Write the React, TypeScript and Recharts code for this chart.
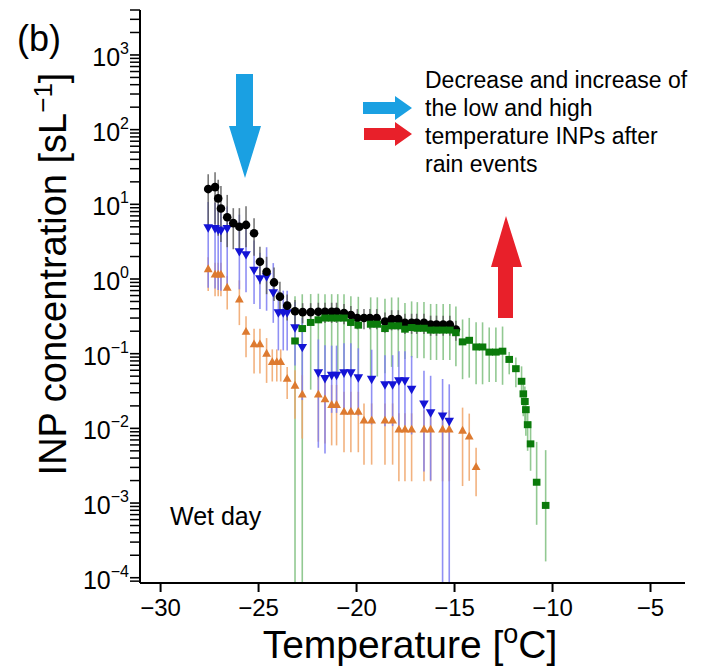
import React from 'react';
import { ScatterChart, Scatter, XAxis, YAxis, ErrorBar } from 'recharts';

// ---------- data ----------
const blackT = [-27.57, -27.22, -27.06, -26.92, -26.6, -26.29, -25.98, -25.64, -25.23, -24.93, -24.59, -24.21, -23.91, -23.54, -23.14, -22.75, -22.34, -21.95, -21.61, -21.27, -21.02, -20.64, -20.29, -19.96, -19.62, -19.32, -18.97, -18.55, -18.21, -17.87, -17.53, -17.19, -16.93, -16.56, -16.22, -15.92, -15.58, -15.24, -14.93];
const blackV = [16, 17, 12, 8.8, 6.7, 5.6, 5.0, 5.3, 4.1, 1.7, 1.25, 0.9, 0.58, 0.44, 0.37, 0.36, 0.36, 0.365, 0.365, 0.365, 0.365, 0.35, 0.33, 0.30, 0.30, 0.30, 0.30, 0.27, 0.29, 0.29, 0.26, 0.26, 0.26, 0.26, 0.245, 0.245, 0.245, 0.245, 0.21];
const blackHiDex = [0.2, 0.2, 0.25, 0.3, 0.3, 0.2, 0.25, 0.25, 0.2, 0.2, 0.2, 0.2, 0.2, 0.15, 0.15, 0.12, 0.12, 0.12, 0.12, 0.12, 0.12, 0.12, 0.12, 0.12, 0.12, 0.12, 0.12, 0.12, 0.12, 0.12, 0.12, 0.12, 0.12, 0.12, 0.12, 0.12, 0.12, 0.12, 0.12];
const blackLoDex = [0.5, 0.5, 0.5, 0.45, 0.4, 0.35, 0.35, 0.3, 0.3, 0.3, 0.3, 0.25, 0.25, 0.2, 0.2, 0.15, 0.15, 0.15, 0.15, 0.15, 0.15, 0.15, 0.15, 0.15, 0.15, 0.15, 0.15, 0.15, 0.15, 0.15, 0.15, 0.15, 0.15, 0.15, 0.15, 0.15, 0.15, 0.15, 0.15];

const blueT = [-27.57, -27.22, -27.06, -26.92, -26.6, -25.98, -25.64, -25.23, -24.93, -24.59, -24.25, -23.99, -23.74, -23.54, -23.14, -22.77, -21.95, -21.61, -21.27, -21.02, -20.64, -20.29, -19.91, -19.23, -18.55, -18.16, -17.84, -17.53, -17.19, -16.56, -16.22, -15.61, -15.27];
const blueV = [4.8, 4.7, 4.5, 4.4, 4.7, 2.3, 2.1, 1.3, 1.0, 1.06, 0.65, 0.35, 0.35, 0.35, 0.22, 0.12, 0.055, 0.046, 0.051, 0.051, 0.055, 0.055, 0.047, 0.045, 0.038, 0.038, 0.043, 0.043, 0.033, 0.021, 0.016, 0.0145, 0.0123];
const blueHiDex = [0.35, 0.35, 0.35, 0.35, 0.3, 0.5, 0.45, 0.4, 0.35, 0.4, 0.4, 0.3, 0.3, 0.3, 0.35, 0.4, 0.45, 0.45, 0.4, 0.4, 0.4, 0.4, 0.4, 0.4, 0.4, 0.4, 0.4, 0.4, 0.45, 0.45, 0.5, 0.5, 0.5];
const blueLoDex = [0.8, 0.8, 0.8, 0.8, 0.8, 0.5, 0.5, 0.45, 0.4, 0.45, 0.4, 0.5, 0.5, 0.5, 0.5, 0.7, 1.0, 1.0, 0.5, 0.5, 0.5, 0.5, 0.5, 0.6, 0.55, 0.55, 0.6, 0.6, 0.6, 0.9, 0.9, 9, 9];

const orangeT = [-27.57, -27.22, -27.06, -26.92, -26.6, -25.98, -25.64, -25.23, -24.93, -24.59, -24.3, -24.07, -23.87, -23.54, -23.14, -22.77, -21.95, -21.61, -21.27, -21.02, -20.64, -20.29, -19.91, -19.62, -19.23, -18.55, -18.16, -17.84, -17.53, -17.19, -16.56, -16.22, -15.61, -15.27, -14.59, -14.25, -13.9];
const orangeV = [1.38, 1.17, 1.17, 1.17, 0.78, 0.54, 0.2, 0.136, 0.136, 0.102, 0.079, 0.079, 0.079, 0.047, 0.038, 0.029, 0.029, 0.025, 0.021, 0.021, 0.017, 0.017, 0.017, 0.013, 0.013, 0.013, 0.013, 0.0098, 0.0098, 0.0098, 0.0098, 0.0098, 0.0098, 0.0098, 0.0095, 0.0079, 0.0031];
const orangeHiDex = [0.15, 0.15, 0.15, 0.15, 0.15, 0.25, 0.2, 0.2, 0.2, 0.2, 0.16, 0.16, 0.16, 0.15, 0.2, 0.25, 0.26, 0.26, 0.26, 0.26, 0.26, 0.26, 0.26, 0.22, 0.22, 0.22, 0.22, 0.21, 0.21, 0.21, 0.25, 0.25, 0.25, 0.25, 0.3, 0.3, 0.25];
const orangeLoDex = [0.3, 0.3, 0.3, 0.3, 0.3, 0.35, 0.35, 0.4, 0.4, 0.4, 0.27, 0.27, 0.27, 0.28, 0.45, 0.6, 0.64, 0.6, 0.55, 0.55, 0.55, 0.55, 0.55, 0.6, 0.6, 0.6, 0.6, 0.7, 0.7, 0.7, 0.7, 0.7, 0.7, 0.7, 0.75, 0.6, 0.4];

const greenT = [-23.14, -22.77, -22.34, -21.95, -21.61, -21.27, -20.96, -20.64, -20.29, -19.91, -19.28, -18.94, -18.55, -18.21, -17.87, -17.53, -17.19, -16.9, -16.56, -16.22, -15.92, -15.58, -15.24, -14.93, -14.59, -14.25, -13.9, -13.57, -13.23, -12.89, -12.55, -12.21, -11.87, -11.58, -11.49, -11.41, -11.36, -11.27, -11.12, -10.81, -10.35];
const greenV = [0.148, 0.217, 0.262, 0.284, 0.30, 0.30, 0.30, 0.30, 0.262, 0.241, 0.248, 0.248, 0.217, 0.236, 0.236, 0.213, 0.224, 0.219, 0.219, 0.207, 0.207, 0.207, 0.207, 0.191, 0.144, 0.151, 0.123, 0.123, 0.105, 0.105, 0.108, 0.0838, 0.063, 0.0427, 0.029, 0.0229, 0.0178, 0.0112, 0.0062, 0.0019, 0.00093];
const greenHiDex = [0.6, 0.46, 0.38, 0.35, 0.32, 0.32, 0.32, 0.32, 0.35, 0.38, 0.36, 0.36, 0.4, 0.38, 0.38, 0.35, 0.35, 0.35, 0.35, 0.35, 0.35, 0.35, 0.35, 0.35, 0.3, 0.3, 0.33, 0.33, 0.33, 0.33, 0.33, 0.1, 0.15, 0.2, 0.2, 0.2, 0.25, 0.25, 0.3, 0.54, 0.74];
const greenLoDex = [9, 9, 0.9, 0.8, 0.8, 0.8, 0.8, 0.8, 0.75, 0.7, 0.7, 0.7, 0.6, 0.55, 0.55, 0.4, 0.4, 0.4, 0.4, 0.4, 0.4, 0.4, 0.4, 0.45, 0.5, 0.5, 0.5, 0.5, 0.4, 0.4, 0.45, 0.2, 0.25, 0.3, 0.3, 0.3, 0.35, 0.35, 0.36, 0.57, 0.75];

const xTicks = [-30, -25, -20, -15, -10, -5];
const yDecades = [-4, -3, -2, -1, 0, 1, 2, 3];
const yMinorMult = [2, 3, 4, 5, 6, 7, 8, 9];

const annotationLines = ['Decrease and increase of', 'the low and high', 'temperature INPs after', 'rain events'];

// ---------- helpers ----------
const Y_MIN = 8.5e-5;
const Y_MAX = 4000;
const X_MIN = -31.05;
const X_MAX = -3.24;
const FONT = '"Liberation Sans", Arial, sans-serif';
const AXIS_X = 140;
const MARGIN_TOP = 10;
const MARGIN_RIGHT = 40;
const X_AXIS_H = 86;
const CHART_W = 725;
const CHART_H = 669;
const TICK_PX = 10;

function build(t: number[], v: number[], lo: number[], hi: number[]) {
  return t.map((tt, i) => {
    const val = v[i];
    const low = Math.max(val / Math.pow(10, lo[i]), Y_MIN);
    const high = val * Math.pow(10, hi[i]);
    return { t: tt, v: val, err: [val - low, high - val] };
  });
}

const blackData = build(blackT, blackV, blackLoDex, blackHiDex);
const blueData = build(blueT, blueV, blueLoDex, blueHiDex);
const orangeData = build(orangeT, orangeV, orangeLoDex, orangeHiDex);
const greenData = build(greenT, greenV, greenLoDex, greenHiDex);

const yMajorTicks = yDecades.map((d) => Math.pow(10, d));
const yMinorTicks: number[] = [9e-5];
yDecades.forEach((d) => {
  if (d < 3) yMinorMult.forEach((m) => yMinorTicks.push(m * Math.pow(10, d)));
});
[2000, 3000, 4000].forEach((v) => yMinorTicks.push(v));

// same log mapping as the y axis (for the minor tick marks of the axis only)
const plotH = CHART_H - MARGIN_TOP - X_AXIS_H;
const logSpan = Math.log10(Y_MAX) - Math.log10(Y_MIN);
const axisY = (v: number) => MARGIN_TOP + ((Math.log10(Y_MAX) - Math.log10(v)) / logSpan) * plotH;

const COL_BLACK = '#000000';
const COL_BLUE = '#1414d6';
const COL_ORANGE = '#dd7a30';
const COL_GREEN = '#0b7a0b';

const Hidden = () => <g />;
const CircleShape = (p: any) => <circle cx={p.cx} cy={p.cy} r={4.3} fill={COL_BLACK} />;
const TriDownShape = (p: any) => (
  <path d={`M${p.cx - 4.8},${p.cy - 3.8}L${p.cx + 4.8},${p.cy - 3.8}L${p.cx},${p.cy + 4.6}Z`} fill={COL_BLUE} />
);
const TriUpShape = (p: any) => (
  <path d={`M${p.cx - 4.4},${p.cy + 3.6}L${p.cx + 4.4},${p.cy + 3.6}L${p.cx},${p.cy - 4.2}Z`} fill={COL_ORANGE} />
);
const SquareShape = (p: any) => <rect x={p.cx - 3.8} y={p.cy - 3.5} width={7.6} height={7} fill={COL_GREEN} />;

const YTick = (props: any) => {
  const { y, payload } = props;
  const v = payload.value;
  const lg = Math.log10(v);
  const e = Math.round(lg);
  const major = Math.abs(lg - e) < 1e-6;
  const exp = e < 0 ? '\u2212' + -e : String(e);
  return (
    <g>
      <line x1={AXIS_X - TICK_PX} x2={AXIS_X} y1={y} y2={y} stroke="#000" strokeWidth={1.6} />
      {major && (
        <text x={129} y={y + 11} textAnchor="end" fontSize={25} fontFamily={FONT} fill="#000">
          10
          <tspan dy={-12} fontSize={16}>{exp}</tspan>
        </text>
      )}
    </g>
  );
};

const XTick = (props: any) => {
  const { x, y, payload } = props;
  const v = payload.value;
  const s = v < 0 ? '\u2212' + -v : String(v);
  return (
    <text x={x} y={y + 22} textAnchor="middle" fontSize={24} fontFamily={FONT} fill="#000">
      {s}
    </text>
  );
};

export default function App() {
  return (
    <div style={{ position: 'absolute', left: 0, top: 0, width: CHART_W, height: CHART_H, background: '#fff' }}>
      <ScatterChart width={CHART_W} height={CHART_H} margin={{ top: MARGIN_TOP, right: MARGIN_RIGHT, left: 0, bottom: 0 }}>
        <XAxis
          type="number"
          dataKey="t"
          domain={[X_MIN, X_MAX]}
          allowDataOverflow
          ticks={xTicks}
          interval={0}
          height={X_AXIS_H}
          tickSize={9}
          tick={<XTick />}
          axisLine={{ stroke: '#000', strokeWidth: 2 }}
          tickLine={{ stroke: '#000', strokeWidth: 2 }}
        />
        <YAxis
          type="number"
          dataKey="v"
          scale="log"
          domain={[Y_MIN, Y_MAX]}
          allowDataOverflow
          ticks={yMajorTicks}
          interval={0}
          width={AXIS_X}
          tickSize={9}
          tick={<YTick />}
          tickLine={false}
          axisLine={{ stroke: '#000', strokeWidth: 2 }}
        />
        {/* error bars first (behind all markers) */}
        <Scatter data={greenData} shape={<Hidden />} isAnimationActive={false}>
          <ErrorBar dataKey="err" direction="y" width={0} stroke="#7fbf7f" strokeWidth={1.6} strokeOpacity={0.85} />
        </Scatter>
        <Scatter data={orangeData} shape={<Hidden />} isAnimationActive={false}>
          <ErrorBar dataKey="err" direction="y" width={0} stroke="#f0a468" strokeWidth={1.6} strokeOpacity={0.85} />
        </Scatter>
        <Scatter data={blueData} shape={<Hidden />} isAnimationActive={false}>
          <ErrorBar dataKey="err" direction="y" width={0} stroke="#7c7cf2" strokeWidth={1.6} strokeOpacity={0.85} />
        </Scatter>
        <Scatter data={blackData} shape={<Hidden />} isAnimationActive={false}>
          <ErrorBar dataKey="err" direction="y" width={0} stroke="#555555" strokeWidth={1.6} strokeOpacity={0.8} />
        </Scatter>
        {/* markers */}
        <Scatter data={orangeData} shape={TriUpShape} isAnimationActive={false} />
        <Scatter data={blueData} shape={TriDownShape} isAnimationActive={false} />
        <Scatter data={blackData} shape={CircleShape} isAnimationActive={false} />
        <Scatter data={greenData} shape={SquareShape} isAnimationActive={false} />
      </ScatterChart>
      <svg
        width={CHART_W}
        height={CHART_H}
        style={{ position: 'absolute', left: 0, top: 0, pointerEvents: 'none' }}
        fontFamily={FONT}
      >
        {/* minor log ticks of the y axis */}
        {yMinorTicks.map((v) => (
          <line
            key={'m' + v}
            x1={AXIS_X - TICK_PX}
            x2={AXIS_X}
            y1={axisY(v)}
            y2={axisY(v)}
            stroke="#000"
            strokeWidth={1.5}
          />
        ))}
        <text x={17} y={51} fontSize={36} fill="#000">(b)</text>
        {/* y title */}
        <text
          transform="translate(66,274) rotate(-90)"
          textAnchor="middle"
          fontSize={38}
          fill="#000"
        >
          INP concentration [sL
          <tspan dy={-14} fontSize={26}>{'\u2212' + '1'}</tspan>
          <tspan dy={14}>]</tspan>
        </text>
        {/* x title */}
        <text x={410} y={658} textAnchor="middle" fontSize={39} fill="#000">
          Temperature [
          <tspan dy={-15} fontSize={27}>o</tspan>
          <tspan dy={15}>C]</tspan>
        </text>
        <text x={170} y={525} fontSize={25} fill="#000">Wet day</text>
        {/* big arrows */}
        <polygon points="236,74 253,74 253,126 261,126 245,178 229,126 236,126" fill="#1aa0e2" />
        <polygon points="498,318 513,318 513,267 522,267 506,216 491,267 498,267" fill="#e8202a" />
        {/* small legend arrows */}
        <polygon points="363,102 395,102 395,96 412,108 395,120 395,114 363,114" fill="#1aa0e2" />
        <polygon points="364,128 395,128 395,122 412,134 395,146 395,140 364,140" fill="#e8202a" />
        {annotationLines.map((s, i) => (
          <text key={i} x={425} y={88 + i * 28} fontSize={23} fill="#000">{s}</text>
        ))}
      </svg>
    </div>
  );
}
